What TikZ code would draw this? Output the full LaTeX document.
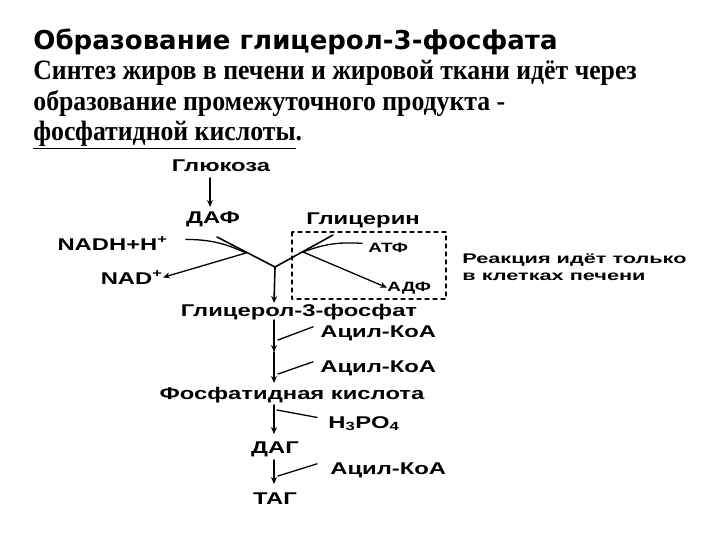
\documentclass[tikz,border=0pt]{standalone}
\usepackage{fontspec}
\setmainfont{Liberation Serif}
\newfontfamily\titlefont{DejaVu Sans}
\newfontfamily\bodyfont[FakeStretch=0.92]{Liberation Serif}
\newfontfamily\diagfont[FakeStretch=1.4]{Liberation Sans}
\newfontfamily\notefont[FakeStretch=1.55]{Liberation Sans}
\usetikzlibrary{arrows.meta}

\begin{document}
\begin{tikzpicture}[x=1pt,y=-1pt,line join=round,line cap=round,>={Stealth[length=7pt,width=6pt]},thick]
	\tikzset{lbl/.style={font=\diagfont\bfseries\fontsize{17}{17}\selectfont,inner sep=0pt,anchor=base},
		small/.style={font=\diagfont\bfseries\fontsize{13.5}{13.5}\selectfont,inner sep=0pt,anchor=base west},
		remark/.style={font=\notefont\bfseries\fontsize{14}{17}\selectfont,inner sep=0pt,align=left,anchor=base west},
		body/.style={font=\bodyfont\bfseries\fontsize{28}{28}\selectfont,inner sep=0pt,anchor=base west},
		flow/.style={line width=1.6pt},
		side/.style={line width=1.3pt}}
	\useasboundingbox[fill=white] (0,0) rectangle (720,540);
	% heading and text
	\node[font=\titlefont\bfseries\fontsize{26}{26}\selectfont,inner sep=0pt,anchor=base west] (title) at (33,50) {Образование глицерол-3-фосфата};
	\node[body] (l1) at (33,80) {Синтез жиров в печени и жировой ткани идёт через};
	\node[body] (l2) at (33,111) {образование промежуточного продукта -};
	\node[body] (l3) at (33,141) {\underline{фосфатидной кислоты}.};
	% metabolites
	\node[lbl] (gluc) at (221,172) {Глюкоза};
	\node[lbl] (daf) at (213,224) {ДАФ};
	\node[lbl] (glyc) at (363,225) {Глицерин};
	\node[lbl,anchor=base east] (nadh) at (168,250) {NADH+H\textsuperscript{+}};
	\node[lbl,anchor=base east] (nad) at (163,284) {NAD\textsuperscript{+}};
	\node[small] (atf) at (368,252) {АТФ};
	\node[small] (adf) at (387,291) {АДФ};
	\node[remark] (note) at (462,280) {Реакция идёт только\\ в клетках печени};
	\node[lbl] (g3p) at (299,316) {Глицерол-3-фосфат};
	\node[lbl,anchor=base west] (acyl1) at (320,337) {Ацил-КоА};
	\node[lbl,anchor=base west] (acyl2) at (320,372) {Ацил-КоА};
	\node[lbl] (pa) at (292,399) {Фосфатидная кислота};
	\node[lbl,anchor=base west] (h3po4) at (328,428) {H\textsubscript{3}PO\textsubscript{4}};
	\node[lbl] (dag) at (275,453) {ДАГ};
	\node[lbl,anchor=base west] (acyl3) at (330,474) {Ацил-КоА};
	\node[lbl] (tag) at (275,504) {ТАГ};
	% branch points
	\coordinate (jnc) at (275,267);
	\coordinate (ltop) at (217,237);
	\coordinate (rtop) at (333,235);
	\coordinate (lmid) at (246,253);
	\coordinate (rmid) at (303,252);
	\coordinate (m1) at (274,352);
	% arrows
	\draw[->,flow] (210,178) -- (210,207);
	\draw[flow] (ltop) -- (jnc) -- (rtop);
	\draw[->,flow] (jnc) -- (274,303);
	\draw[side] (nadh.east) ++(18,-4) to[bend left=12] (lmid);
	\draw[->,side] (lmid) -- (nad.east);
	\draw[side] (atf.west) ++(-6,-4) to[bend right=12] (rmid);
	\draw[->,side] (rmid) -- (adf.west);
	\draw[dashed,line width=1.3pt,dash pattern=on 4pt off 4pt] (292,232) rectangle (446,299);
	\draw[->,flow] (274,320) -- (m1);
	\draw[->,flow] (m1) -- (274,383);
	\draw[side] (acyl1.west) ++(-7,-6) -- (278,340);
	\draw[side] (acyl2.west) ++(-7,-6) -- (278,374);
	\draw[->,flow] (274,405) -- (274,434);
	\draw[side] (h3po4.west) ++(-11,-6) -- (277,410);
	\draw[->,flow] (274,460) -- (274,484);
	\draw[side] (acyl3.west) ++(-13,-6) -- (278,476);
\end{tikzpicture}
\end{document}
